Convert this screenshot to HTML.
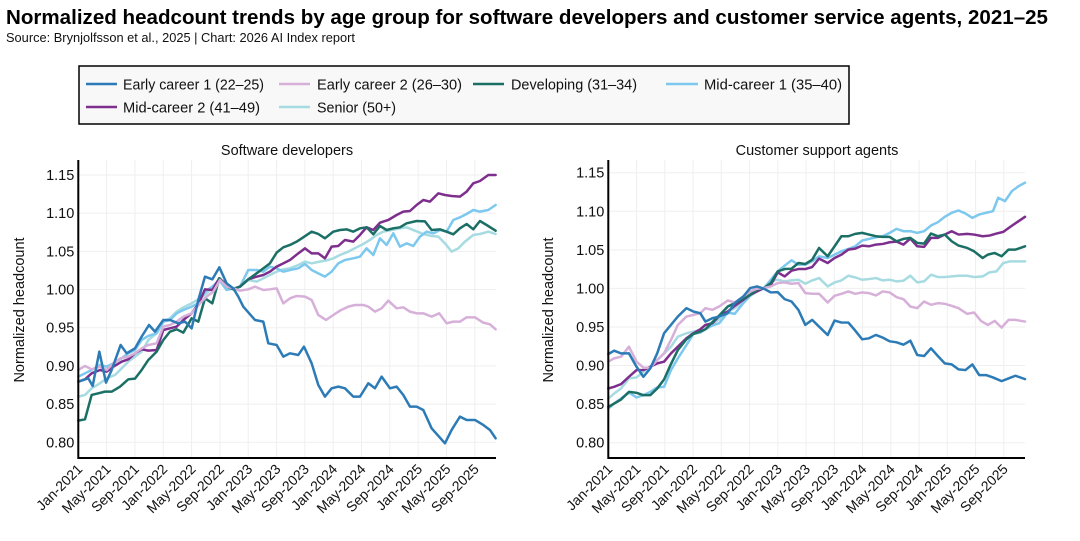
<!DOCTYPE html>
<html><head><meta charset="utf-8"><style>
body{margin:0;background:#fff;width:1080px;height:536px;overflow:hidden;font-family:"Liberation Sans",sans-serif}
</style></head><body>
<svg width="1080" height="536" xmlns="http://www.w3.org/2000/svg" font-family="Liberation Sans, sans-serif">
<text x="6" y="24" font-size="20" font-weight="bold" fill="#000" textLength="1042" lengthAdjust="spacingAndGlyphs">Normalized headcount trends by age group for software developers and customer service agents, 2021–25</text>
<text x="6" y="42" font-size="12.5" fill="#111" textLength="349" lengthAdjust="spacingAndGlyphs">Source: Brynjolfsson et al., 2025 | Chart: 2026 AI Index report</text>
<rect x="79" y="66" width="770" height="58" fill="#f8f8f8" stroke="#000" stroke-width="1.5"/>
<g font-size="15" fill="#111">
<line x1="86" y1="84" x2="117" y2="84" stroke="#2c7bb6" stroke-width="2.5"/><text x="123" y="89.5" textLength="141" lengthAdjust="spacingAndGlyphs">Early career 1 (22–25)</text>
<line x1="279" y1="84" x2="310" y2="84" stroke="#d7b0d9" stroke-width="2.5"/><text x="317" y="89.5" textLength="145" lengthAdjust="spacingAndGlyphs">Early career 2 (26–30)</text>
<line x1="473" y1="84" x2="504" y2="84" stroke="#1b6f65" stroke-width="2.5"/><text x="511" y="89.5" textLength="126" lengthAdjust="spacingAndGlyphs">Developing (31–34)</text>
<line x1="666" y1="84" x2="698" y2="84" stroke="#7cc8ee" stroke-width="2.5"/><text x="704" y="89.5" textLength="138" lengthAdjust="spacingAndGlyphs">Mid-career 1 (35–40)</text>
<line x1="86" y1="107" x2="117" y2="107" stroke="#7e2f8e" stroke-width="2.5"/><text x="123" y="112.5" textLength="137" lengthAdjust="spacingAndGlyphs">Mid-career 2 (41–49)</text>
<line x1="279" y1="107" x2="310" y2="107" stroke="#a6dbe1" stroke-width="2.5"/><text x="317" y="112.5" textLength="79" lengthAdjust="spacingAndGlyphs">Senior (50+)</text>
</g>
<g id="axes"></g>
</svg>
<script>
const NS="http://www.w3.org/2000/svg";
const root=document.getElementById('axes');
function el(t,a,p,txt){const e=document.createElementNS(NS,t);for(const k in a)e.setAttribute(k,a[k]);if(txt!==undefined)e.textContent=txt;(p||root).appendChild(e);return e;}
const ticks=["Jan-2021","May-2021","Sep-2021","Jan-2022","May-2022","Sep-2022","Jan-2023","May-2023","Sep-2023","Jan-2024","May-2024","Sep-2024","Jan-2025","May-2025","Sep-2025"];
const yt=["1.15","1.10","1.05","1.00","0.95","0.90","0.85","0.80"];
function panel(x0,x1,mw,y15,y80,title,tx,ylx){
  const dy=(y80-y15)/7;
  for(let i=0;i<15;i++){const x=x0+i*4*mw;el('line',{x1:x,y1:160,x2:x,y2:458,stroke:'#efefef','stroke-width':1});}
  for(let i=0;i<8;i++){const y=y15+i*dy;el('line',{x1:x0,y1:y,x2:x1,y2:y,stroke:'#efefef','stroke-width':1});
    el('text',{x:x0-4,y:y+5,'font-size':14.5,'text-anchor':'end',fill:'#111'},null,yt[i]);}
  for(let i=0;i<15;i++){const x=x0+i*4*mw+5;el('text',{x:x,y:470,'font-size':14,'text-anchor':'end',fill:'#111',transform:`rotate(-45 ${x} 470)`},null,ticks[i]);}
  el('text',{x:tx,y:155,'font-size':14.5,'text-anchor':'middle',fill:'#111'},null,title);
  el('text',{x:ylx,y:310,'font-size':14.5,'text-anchor':'middle',fill:'#111',transform:`rotate(-90 ${ylx} 310)`},null,'Normalized headcount');
}
panel(78.3,496,7.08,175,442.3,'Software developers',287,24);
panel(608.3,1025,7.063,172.7,442.7,'Customer support agents',817,553);
function lines(tf,sw,data){
  const g=el('g',{transform:tf});
  for(const [c,p] of data){el('polyline',{points:p,fill:'none',stroke:c,'stroke-width':sw,'stroke-linejoin':'round','stroke-linecap':'round'},g);}
}
lines('translate(0,140) scale(0.3333)',7.5,[
['#a6dbe1','235,770 255,765 275,745 300,730 320,715 345,705 365,685 385,665 405,650 425,635 445,600 470,580 490,545 510,535 530,515 550,502 575,490 600,475 620,460 640,440 660,415 680,440 700,445 720,440 745,420 770,425 790,415 810,405 830,395 850,388 870,385 895,375 915,365 935,370 960,365 985,360 1000,355 1020,345 1045,335 1070,322 1090,312 1110,300 1130,285 1150,275 1175,270 1200,265 1220,262 1245,272 1270,282 1295,288 1315,290 1335,310 1355,335 1375,325 1395,305 1420,285 1440,282 1465,275 1487,282'],
['#7cc8ee','235,710 255,700 275,690 300,675 320,680 340,670 365,655 385,640 405,630 425,600 445,588 470,580 490,545 510,540 530,520 550,510 575,500 595,490 615,455 637,440 658,420 680,450 700,445 720,440 745,390 770,390 790,395 810,380 830,385 850,395 870,390 895,385 915,372 935,390 955,400 975,410 995,395 1015,370 1035,360 1060,355 1080,350 1100,325 1120,345 1140,295 1160,315 1180,280 1200,320 1220,310 1240,318 1260,290 1280,275 1300,280 1320,270 1340,275 1360,240 1380,232 1400,222 1420,210 1440,215 1465,210 1487,195'],
['#7e2f8e','235,725 255,718 275,700 300,690 320,695 340,680 365,665 385,658 405,640 425,628 445,632 470,630 490,570 510,565 530,560 550,540 575,520 595,492 615,448 637,450 658,415 680,435 700,448 720,440 745,418 770,410 790,405 810,395 830,380 850,370 870,360 895,340 915,325 935,340 955,340 975,355 995,320 1015,318 1035,300 1060,305 1080,285 1100,262 1120,270 1140,248 1165,240 1190,225 1210,215 1230,213 1250,195 1270,180 1290,185 1315,160 1335,165 1355,168 1380,170 1400,155 1420,130 1440,123 1465,105 1487,105'],
['#1b6f65','235,842 255,838 275,765 295,760 315,755 335,755 360,740 385,718 405,716 425,690 445,660 470,635 490,600 510,575 530,568 550,578 575,535 595,545 615,475 637,490 658,415 680,440 700,448 720,440 745,418 770,400 790,385 810,370 830,338 850,322 870,315 890,305 910,292 935,275 955,282 975,295 1000,275 1020,270 1040,268 1060,275 1080,265 1100,262 1120,283 1140,258 1160,270 1180,265 1200,262 1220,250 1250,243 1275,244 1295,270 1320,268 1340,275 1360,283 1380,265 1400,252 1420,268 1440,243 1460,255 1487,272'],
['#d7b0d9','235,690 255,678 275,688 300,680 320,690 340,670 362,655 385,650 405,640 425,625 445,615 470,610 490,560 510,555 530,545 550,530 575,520 600,490 620,470 640,455 660,420 680,440 700,445 720,452 745,448 765,440 790,450 810,448 830,445 850,490 870,475 890,468 915,470 935,480 955,525 978,540 1000,525 1020,512 1045,500 1065,495 1090,495 1105,500 1125,515 1145,505 1165,482 1190,505 1210,502 1230,515 1250,520 1270,520 1295,530 1318,520 1340,550 1360,545 1380,545 1400,532 1425,532 1450,548 1470,553 1487,568'],
['#2c7bb6','235,725 250,720 265,715 278,738 298,635 318,728 335,690 362,615 380,640 405,625 425,590 447,555 465,575 490,540 510,540 535,550 555,545 575,565 595,480 615,410 637,418 658,382 680,430 700,445 715,470 730,500 765,540 790,545 805,610 830,615 850,650 870,640 895,645 912,620 935,670 955,735 975,770 995,745 1015,740 1035,745 1060,770 1080,770 1105,730 1125,745 1145,710 1170,745 1190,740 1210,765 1230,800 1250,800 1270,810 1295,865 1335,910 1355,870 1380,830 1400,840 1425,840 1450,855 1470,870 1487,895']
]);
lines('translate(540.1,139.2) scale(0.3444,0.3346)',7.4,[
['#a6dbe1','198,775 215,760 235,745 258,715 280,712 300,695 320,680 340,660 360,640 380,620 400,590 425,580 445,575 465,570 480,555 500,552 520,538 545,515 565,505 590,485 610,468 630,455 650,445 670,425 690,420 710,425 730,422 750,420 770,432 790,422 810,415 835,440 855,428 875,422 895,408 915,413 935,420 955,418 975,415 995,422 1015,420 1035,425 1055,423 1075,408 1095,428 1115,425 1135,405 1155,412 1175,412 1195,410 1215,408 1240,408 1260,412 1285,410 1305,398 1325,395 1345,370 1365,365 1385,365 1408,365'],
['#7cc8ee','198,805 215,790 235,775 258,757 280,772 300,765 320,755 340,742 360,740 380,690 400,655 425,615 445,582 465,578 480,568 500,557 520,550 545,518 565,522 590,490 610,468 630,450 650,445 670,420 690,395 710,378 730,362 750,375 770,375 790,365 810,350 835,355 855,345 875,335 895,328 915,320 935,303 955,298 975,293 995,290 1015,280 1035,268 1055,275 1075,275 1095,280 1115,275 1135,258 1155,248 1175,232 1195,220 1215,213 1235,222 1255,235 1275,225 1295,220 1315,215 1330,175 1350,185 1370,155 1390,140 1408,130'],
['#7e2f8e','198,745 215,740 235,732 258,710 280,690 300,690 320,680 340,670 360,665 380,640 400,620 425,595 445,580 465,568 480,555 500,550 520,528 545,515 565,498 590,480 610,465 630,455 650,445 670,435 690,398 710,410 730,393 750,388 770,388 790,382 810,357 835,370 855,355 875,345 895,330 915,327 935,318 955,320 975,315 995,313 1015,308 1035,306 1055,315 1075,297 1095,320 1115,322 1135,295 1155,295 1175,285 1195,275 1215,285 1240,283 1260,285 1285,290 1305,288 1325,282 1345,277 1365,262 1385,248 1408,232'],
['#1b6f65','198,800 215,790 235,778 258,755 280,758 300,765 320,765 340,745 360,718 380,672 400,630 425,598 445,582 465,575 480,568 500,547 520,527 545,500 565,490 590,477 610,465 630,450 650,445 670,430 690,395 710,388 730,387 750,370 770,373 790,360 810,325 835,350 855,320 875,290 895,290 915,283 935,280 955,285 975,290 995,292 1015,292 1035,305 1055,298 1075,295 1095,310 1115,312 1135,282 1155,290 1175,285 1195,305 1215,318 1240,325 1260,335 1285,355 1300,345 1320,340 1340,350 1360,330 1380,330 1408,320'],
['#d7b0d9','198,665 215,655 235,650 258,620 280,665 300,683 320,683 340,660 360,640 380,600 400,555 425,530 445,525 465,520 480,505 500,510 520,500 545,482 565,488 590,470 610,455 630,447 650,445 670,440 690,430 710,428 730,432 750,430 770,460 790,462 810,462 835,488 855,468 875,462 895,455 915,462 935,458 955,460 975,467 995,455 1015,458 1035,472 1055,478 1075,500 1095,505 1115,485 1135,495 1155,490 1175,492 1195,498 1215,505 1240,522 1260,518 1280,543 1300,555 1320,543 1340,563 1360,540 1380,540 1408,545'],
['#2c7bb6','198,642 215,632 235,640 258,640 280,680 300,710 320,685 340,640 360,580 380,555 400,530 425,505 445,515 465,520 480,545 500,535 520,530 545,520 565,490 590,470 610,445 630,440 650,447 670,458 690,457 710,478 730,485 750,510 770,555 790,540 810,560 835,585 855,542 875,548 895,548 915,572 935,598 955,595 975,585 995,593 1015,604 1035,607 1055,614 1075,602 1095,645 1115,648 1135,625 1155,648 1175,670 1195,673 1215,688 1235,690 1255,673 1275,705 1295,705 1315,712 1340,723 1360,715 1380,707 1408,717']
]);
el('polyline',{points:'78.3,160 78.3,458 496,458',fill:'none',stroke:'#000','stroke-width':2});
el('polyline',{points:'608.3,160 608.3,458 1025,458',fill:'none',stroke:'#000','stroke-width':2});
</script>
</body></html>
